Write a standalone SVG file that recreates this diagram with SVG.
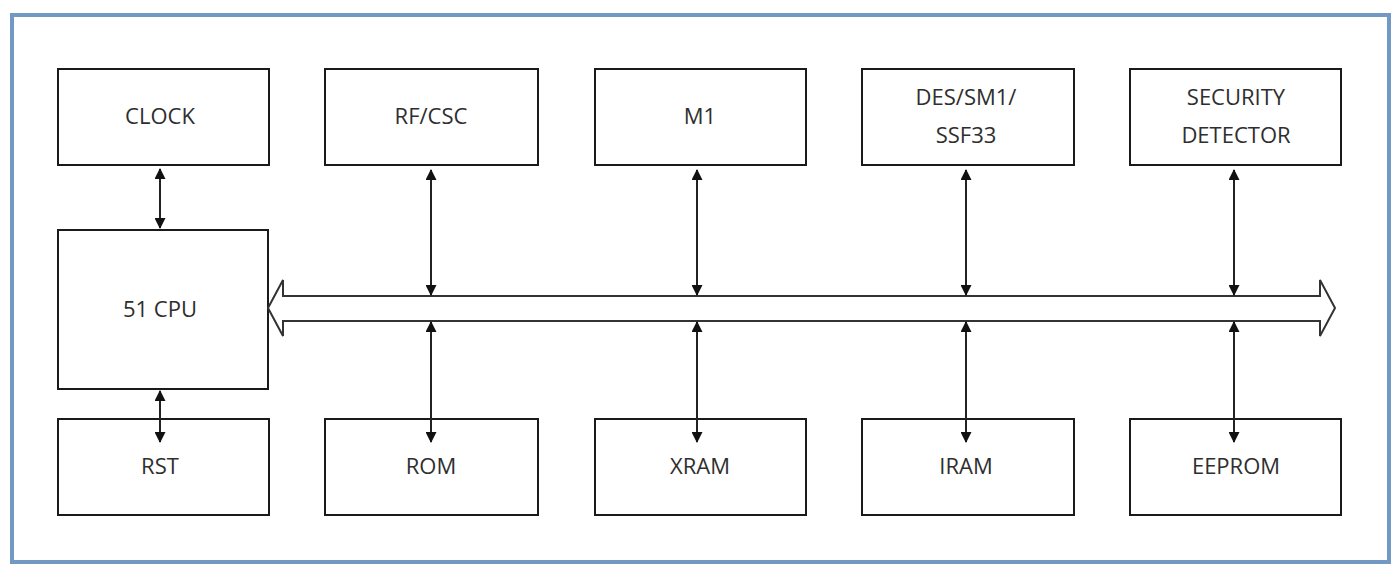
<svg xmlns="http://www.w3.org/2000/svg" width="1396" height="574" viewBox="0 0 1396 574">
<defs>
<style>
.box{fill:#fff;stroke:#1a1a1a;stroke-width:2}
.t{font-family:"Open Sans","Liberation Sans",sans-serif;font-size:22px;fill:#2e2e2e;text-anchor:middle}
.c{stroke:#222;stroke-width:2;fill:none}
.bus{stroke:#333;stroke-width:2;fill:#fff}
</style>
<marker id="ah" viewBox="0 0 10 10" refX="9" refY="5" markerWidth="12" markerHeight="11" orient="auto-start-reverse" markerUnits="userSpaceOnUse">
<path d="M0,0 L10,5 L0,10 z" fill="#111"/>
</marker>
</defs>
<rect x="0" y="0" width="1396" height="574" fill="#fff"/>
<rect x="12" y="15" width="1377" height="547" fill="none" stroke="#7199c3" stroke-width="4"/>
<g id="clock"><rect class="box" x="58" y="69" width="211" height="96"/><text class="t" x="160" y="124">CLOCK</text></g>
<g id="rfcsc"><rect class="box" x="325" y="69" width="213" height="96"/><text class="t" x="431" y="124">RF/CSC</text></g>
<g id="m1"><rect class="box" x="595" y="69" width="211" height="96"/><text class="t" x="700" y="124">M1</text></g>
<g id="des"><rect class="box" x="862" y="69" width="212" height="96"/><text class="t" x="966" y="105">DES/SM1/</text><text class="t" x="966" y="143">SSF33</text></g>
<g id="security"><rect class="box" x="1130" y="69" width="211" height="96"/><text class="t" x="1236" y="105">SECURITY</text><text class="t" x="1236" y="143">DETECTOR</text></g>
<g id="cpu"><rect class="box" x="58" y="230" width="210" height="159"/><text class="t" x="160" y="317">51 CPU</text></g>
<g id="rst"><rect class="box" x="58" y="419" width="211" height="96"/><text class="t" x="160" y="474">RST</text></g>
<g id="rom"><rect class="box" x="325" y="419" width="213" height="96"/><text class="t" x="431" y="474">ROM</text></g>
<g id="xram"><rect class="box" x="595" y="419" width="211" height="96"/><text class="t" x="700" y="474">XRAM</text></g>
<g id="iram"><rect class="box" x="862" y="419" width="212" height="96"/><text class="t" x="966" y="474">IRAM</text></g>
<g id="eeprom"><rect class="box" x="1130" y="419" width="211" height="96"/><text class="t" x="1236" y="474">EEPROM</text></g>
<g id="connectors">
<path class="bus" d="M268,308 L283,280 L283,296 L1320,296 L1320,280 L1335,308 L1320,336 L1320,321 L283,321 L283,336 Z"/>
<line class="c" x1="160" y1="169" x2="160" y2="228" marker-start="url(#ah)" marker-end="url(#ah)"/>
<line class="c" x1="160" y1="391" x2="160" y2="442" marker-start="url(#ah)" marker-end="url(#ah)"/>
<line class="c" x1="431" y1="170" x2="431" y2="295" marker-start="url(#ah)" marker-end="url(#ah)"/>
<line class="c" x1="697" y1="170" x2="697" y2="295" marker-start="url(#ah)" marker-end="url(#ah)"/>
<line class="c" x1="966" y1="170" x2="966" y2="295" marker-start="url(#ah)" marker-end="url(#ah)"/>
<line class="c" x1="1234" y1="170" x2="1234" y2="295" marker-start="url(#ah)" marker-end="url(#ah)"/>
<line class="c" x1="431" y1="322" x2="431" y2="442" marker-start="url(#ah)" marker-end="url(#ah)"/>
<line class="c" x1="697" y1="322" x2="697" y2="442" marker-start="url(#ah)" marker-end="url(#ah)"/>
<line class="c" x1="966" y1="322" x2="966" y2="442" marker-start="url(#ah)" marker-end="url(#ah)"/>
<line class="c" x1="1234" y1="322" x2="1234" y2="442" marker-start="url(#ah)" marker-end="url(#ah)"/>
</g>
</svg>
